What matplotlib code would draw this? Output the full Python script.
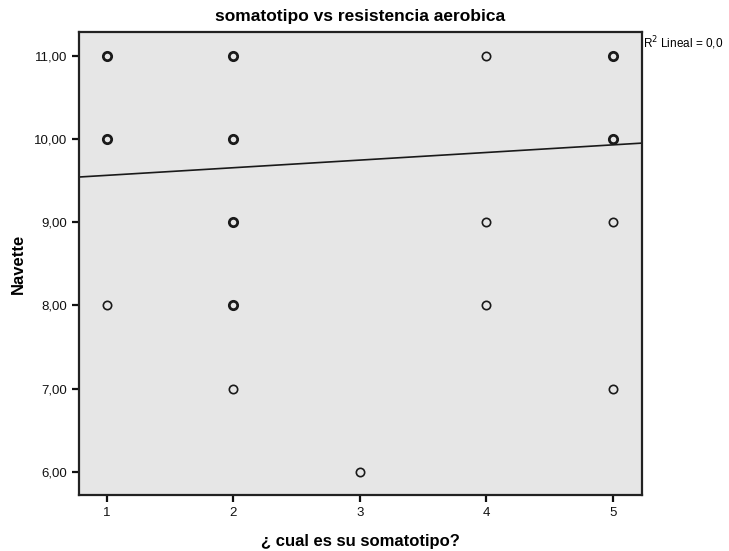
import matplotlib
matplotlib.use("Agg")
import matplotlib.pyplot as plt

plt.rcParams['font.family'] = ['Liberation Sans', 'DejaVu Sans']

# somatotipo (x), navette (y), repeated cases (n>1 drawn bolder)
somatotipo = [1, 1, 1, 2, 2, 2, 2, 2, 3, 4, 4, 4, 5, 5, 5, 5]
navette = [11, 10, 8, 11, 10, 9, 8, 7, 6, 11, 9, 8, 11, 10, 9, 7]
n_casos = [2, 2, 1, 2, 2, 2, 2, 1, 1, 1, 1, 1, 2, 2, 1, 1]

# fitted linear line
fit_intercept = 9.474
fit_slope = 0.0917

x_ticks = [1, 2, 3, 4, 5]
y_ticks = [6, 7, 8, 9, 10, 11]

fig = plt.figure(figsize=(7.29, 5.51), dpi=100)
ax = fig.add_axes([0.1084, 0.1016, 0.7723, 0.8403])
ax.set_facecolor('#e6e6e6')

for x, y, n in zip(somatotipo, navette, n_casos):
    ax.plot(x, y, 'o', ms=6, mfc='none', mec='#1a1a1a',
            mew=2.0 if n > 1 else 1.2, zorder=3)

xmin, xmax = 0.78, 5.23
ax.plot([xmin, xmax], [fit_intercept + fit_slope * xmin, fit_intercept + fit_slope * xmax],
        color='#1a1a1a', lw=1.2, zorder=2)

ax.set_xlim(xmin, xmax)
ax.set_ylim(5.72, 11.29)
ax.set_xticks(x_ticks)
ax.set_xticklabels([str(v) for v in x_ticks])
ax.set_yticks(y_ticks)
ax.set_yticklabels(['{:.2f}'.format(v).replace('.', ',') for v in y_ticks])

for s in ax.spines.values():
    s.set_linewidth(1.6)
    s.set_color('#222222')
ax.tick_params(direction='out', length=5, width=1.6, labelsize=9.5, colors='#111111')

ax.set_title('somatotipo vs resistencia aerobica', fontsize=12.5, fontweight='bold', pad=8)
ax.set_xlabel('¿ cual es su somatotipo?', fontsize=12, fontweight='bold', labelpad=11)
ax.set_ylabel('Navette', fontsize=12, fontweight='bold', labelpad=6)

ax.text(1.002, 0.975, 'R$^2$ Lineal = 0,0', transform=ax.transAxes,
        fontsize=8.5, ha='left', va='center')

fig.savefig('out.png', dpi=100)
